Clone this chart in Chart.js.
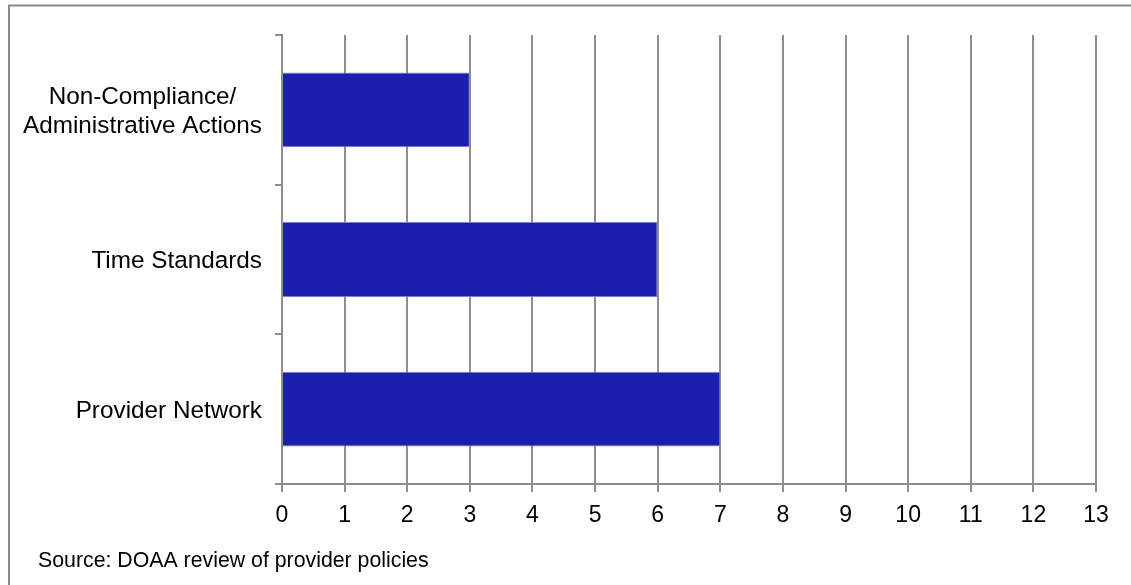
<!DOCTYPE html>
<html>
<head>
<meta charset="utf-8">
<script src="https://cdn.jsdelivr.net/npm/chart.js@4/dist/chart.umd.min.js"></script>
<style>
  html, body { margin: 0; padding: 0; background: #fff; }
  #wrap { position: relative; width: 1131px; height: 585px; overflow: hidden; }
  canvas { display: block; }
</style>
</head>
<body>
<div id="wrap"><canvas id="c" width="1131" height="585"></canvas></div>
<script>
// Category labels (top to bottom); each entry is a list of text lines
const categories = [
  ['Non-Compliance/', 'Administrative Actions'],
  ['Time Standards'],
  ['Provider Network']
];
const counts = [3, 6, 7];
const xTicks = [0, 1, 2, 3, 4, 5, 6, 7, 8, 9, 10, 11, 12, 13];
const sourceNote = 'Source: DOAA review of provider policies';

const FONT = '"Liberation Sans", Arial, Helvetica, sans-serif';
const GRID = '#8e8e8e';

// Outer frame and source line
const framePlugin = {
  id: 'frame',
  beforeDraw(chart) {
    const ctx = chart.ctx;
    ctx.save();
    ctx.fillStyle = '#fff';
    ctx.fillRect(0, 0, chart.width, chart.height);
    ctx.strokeStyle = '#8a8a8a';
    ctx.lineWidth = 2;
    ctx.beginPath();
    ctx.moveTo(9, chart.height + 5);
    ctx.lineTo(9, 5.5);
    ctx.lineTo(chart.width + 5, 5.5);
    ctx.stroke();
    ctx.restore();
  },
  afterDraw(chart) {
    const ctx = chart.ctx;
    ctx.save();
    ctx.fillStyle = '#000';
    ctx.font = '21.3px ' + FONT;
    ctx.textAlign = 'left';
    ctx.textBaseline = 'alphabetic';
    ctx.fillText(sourceNote, 38, 567);
    ctx.restore();
  }
};

// Category labels: right-aligned block, lines centred within the block
const catLabelPlugin = {
  id: 'catLabels',
  afterDraw(chart) {
    const ctx = chart.ctx;
    const y = chart.scales.y;
    const size = 24.3, lh = 29, capHalf = 0.716 * size / 2;
    const right = 262;
    ctx.save();
    ctx.fillStyle = '#000';
    ctx.font = size + 'px ' + FONT;
    ctx.textAlign = 'center';
    ctx.textBaseline = 'alphabetic';
    categories.forEach((lines, i) => {
      const cy = y.getPixelForValue(i);
      const w = Math.max(...lines.map(l => ctx.measureText(l).width));
      const cx = right - w / 2;
      const top = cy - (lines.length - 1) * lh / 2;
      lines.forEach((l, k) => ctx.fillText(l, cx, top + k * lh + capHalf));
    });
    ctx.restore();
  }
};

new Chart(document.getElementById('c'), {
  type: 'bar',
  data: {
    labels: categories.map(l => l.join(' ')),
    datasets: [{
      data: counts,
      backgroundColor: '#1b1fad',
      borderColor: '#7c7fd2',
      borderWidth: 1,
      borderSkipped: 'start',
      barPercentage: 0.5,
      categoryPercentage: 1.0
    }]
  },
  options: {
    indexAxis: 'y',
    responsive: false,
    animation: false,
    layout: { padding: { top: 35, right: 35, left: 0, bottom: 0 } },
    plugins: { legend: { display: false }, tooltip: { enabled: false } },
    scales: {
      x: {
        min: 0,
        max: 13,
        afterBuildTicks(scale) { scale.ticks = xTicks.map(v => ({ value: v })); },
        afterFit(scale) { scale.height = 101; },
        grid: { color: GRID, lineWidth: 2, tickLength: 8, drawTicks: true },
        border: { color: GRID, width: 2 },
        ticks: {
          color: '#000',
          font: { family: FONT, size: 23 },
          padding: 10,
          maxRotation: 0,
          autoSkip: false
        }
      },
      y: {
        afterFit(scale) { scale.width = 282; },
        grid: { drawOnChartArea: false, color: GRID, lineWidth: 2, tickLength: 7, offset: true },
        border: { color: GRID, width: 2 },
        ticks: { display: false }
      }
    }
  },
  plugins: [framePlugin, catLabelPlugin]
});
</script>
</body>
</html>
